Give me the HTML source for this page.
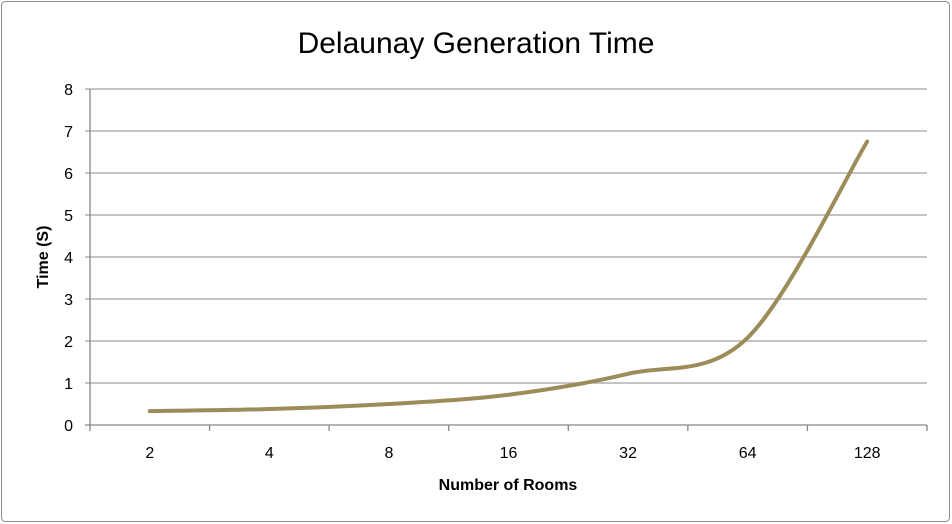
<!DOCTYPE html>
<html><head><meta charset="utf-8"><style>
body{margin:0;background:#fff;}
svg{display:block;font-family:"Liberation Sans",sans-serif;}
</style></head><body>
<svg width="952" height="524">
<rect x="1.5" y="1.5" width="948" height="520" rx="4" fill="#fff" stroke="#8c8c8c"/>
<text x="476" y="53" text-anchor="middle" font-size="30" fill="#000">Delaunay Generation Time</text>
<g id="grid"></g><g id="axes"></g>
<path id="line" fill="none" stroke="#9c8c5a" stroke-width="4" stroke-linecap="round"/>
<text x="508" y="490" text-anchor="middle" font-size="16" font-weight="bold">Number of Rooms</text>
<text transform="translate(48,257) rotate(-90)" text-anchor="middle" font-size="16" font-weight="bold">Time (S)</text>
</svg>
<script>
const categories=["2","4","8","16","32","64","128"];
const values=[0.33,0.38,0.5,0.72,1.22,2.08,6.75];
const yTicks=[0,1,2,3,4,5,6,7,8];
const X0=90,X1=927,Y0=425,Y1=89;
const band=(X1-X0)/categories.length;
const xs=i=>X0+band*(i+0.5);
const ys=v=>Y0-(v/8)*(Y0-Y1);
const NS="http://www.w3.org/2000/svg";
const grid=document.getElementById('grid'),axes=document.getElementById('axes');
function mk(tag,attrs,parent,txt){const e=document.createElementNS(NS,tag);for(const k in attrs)e.setAttribute(k,attrs[k]);if(txt!==undefined)e.textContent=txt;parent.appendChild(e);return e;}
yTicks.forEach(t=>{
 const y=ys(t);
 const g=mk('line',{x1:X0-5,x2:X1,y1:y,y2:y,stroke:t===0?'#868686':'#a0a0a0','stroke-width':1.3},grid);
 
 
 const l=mk('text',{x:X0-17,y:y+6,'text-anchor':'end','font-size':16},axes,String(t));
 
 
});
mk('line',{x1:X0,x2:X0,y1:Y1,y2:Y0,stroke:'#868686','stroke-width':1.3},axes);
for(let i=0;i<=categories.length;i++){
 const x=X0+band*i;
 mk('line',{x1:x,x2:x,y1:Y0,y2:Y0+6,stroke:'#868686','stroke-width':1.3},axes);
}
categories.forEach((c,i)=>{
 const t=mk('text',{x:xs(i),y:458,'text-anchor':'middle','font-size':16},axes,c);
 
 
});
const P=values.map((v,i)=>[xs(i),ys(v)]);
let d=`M${P[0][0]},${P[0][1]}`;
for(let i=0;i<P.length-1;i++){
 const p0=P[Math.max(0,i-1)],p1=P[i],p2=P[i+1],p3=P[Math.min(P.length-1,i+2)];
 const c1=[p1[0]+(p2[0]-p0[0])/6,p1[1]+(p2[1]-p0[1])/6];
 const c2=[p2[0]-(p3[0]-p1[0])/6,p2[1]-(p3[1]-p1[1])/6];
 d+=` C${c1[0]},${c1[1]} ${c2[0]},${c2[1]} ${p2[0]},${p2[1]}`;
}
document.getElementById('line').setAttribute('d',d);
</script>
</body></html>
